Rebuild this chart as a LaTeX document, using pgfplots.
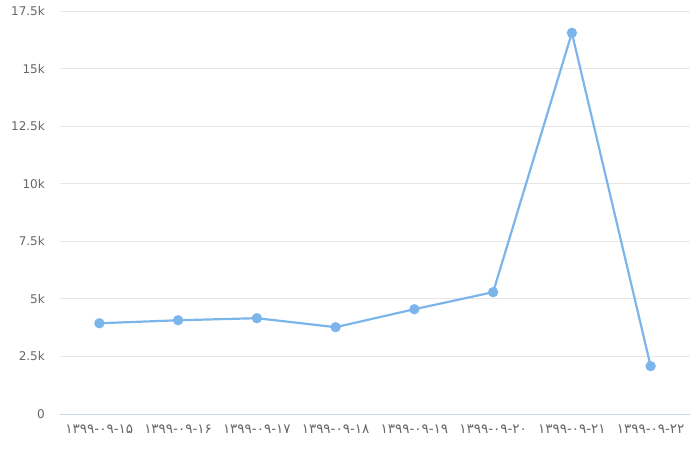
\documentclass[border=0pt]{standalone}
\usepackage{fontspec}
\setmainfont{DejaVu Sans}
\usepackage{pgfplots}
\pgfplotsset{compat=1.18}
\definecolor{serie}{RGB}{124,181,236}
\definecolor{gridc}{RGB}{230,230,230}
\definecolor{axisc}{RGB}{204,214,235}
\definecolor{labc}{RGB}{102,102,102}
\begin{document}
\begin{tikzpicture}
\begin{axis}[
  scale only axis,
  width=630bp, height=403bp,
  xmin=-0.5, xmax=7.5,
  ymin=0, ymax=17500,
  scaled y ticks=false,
  xtick={0,...,7},
  xticklabels={۱۳۹۹-۰۹-۱۵,۱۳۹۹-۰۹-۱۶,۱۳۹۹-۰۹-۱۷,۱۳۹۹-۰۹-۱۸,۱۳۹۹-۰۹-۱۹,۱۳۹۹-۰۹-۲۰,۱۳۹۹-۰۹-۲۱,۱۳۹۹-۰۹-۲۲},
  ytick={0,2500,5000,7500,10000,12500,15000,17500},
  yticklabels={0,2.5k,5k,7.5k,10k,12.5k,15k,17.5k},
  ymajorgrids,
  grid style={gridc, line width=0.8bp},
  axis line style={draw=none},
  xtick pos=left, ytick pos=left,
  tick style={draw=none},
  yticklabel style={font=\fontsize{12bp}{14bp}\selectfont, text=labc, inner sep=1bp, xshift=-14bp},
  xticklabel style={font=\fontsize{13.5bp}{15bp}\selectfont, text=labc, yshift=-7bp},
  clip=false,
]
\draw[axisc, line width=1bp] (axis cs:-0.5,0) -- (axis cs:7.5,0);
\addplot[serie, line width=2.2bp, mark=*, mark size=4bp, mark options={fill=serie, draw=serie}] coordinates {
(0,3940) (1,4070) (2,4160) (3,3770) (4,4550) (5,5290) (6,16550) (7,2080)
};
\end{axis}
\pgfresetboundingbox
\path ([shift={(-60bp,-53bp)}]current axis.south west) rectangle ++(700bp,467bp);
\end{tikzpicture}
\end{document}
